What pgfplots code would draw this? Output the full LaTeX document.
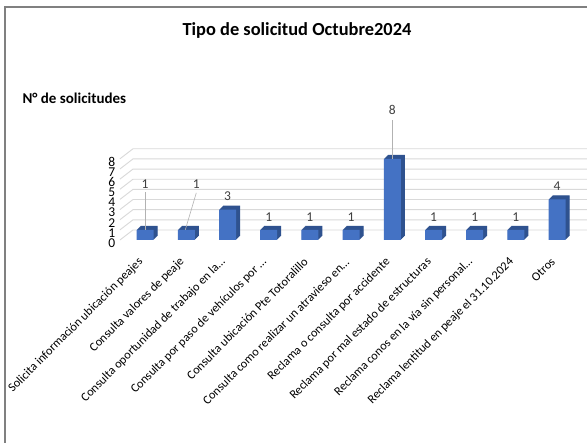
\documentclass[border=0pt]{standalone}
\usepackage{pgfplots}
\pgfplotsset{compat=1.18}
\usepackage{pgfplotstable}
\usepackage{fontspec}
\setmainfont{Carlito}
\definecolor{barfront}{HTML}{4472C4}
\definecolor{barside}{HTML}{2F528F}
\definecolor{gridc}{HTML}{D9D9D9}
\definecolor{txt}{HTML}{404040}
\pgfplotstableread{
x y dx dy
0 1 0 46
1 1 10 46
2 3 0 13
3 1 0 13
4 1 0 13
5 1 0 13
6 8 0 49
7 1 0 13
8 1 0 13
9 1 0 13
10 4 0 13
}\data
\begin{document}
\begin{tikzpicture}
\useasboundingbox (0,0) rectangle (587pt,443pt);
\fill[white] (0,0) rectangle (587pt,443pt);
\draw[gray, line width=1.2pt] (5pt,436pt) rectangle (700pt,-100pt);
\node[font=\bfseries\fontsize{18.4}{20}\selectfont, text=black] at (297pt,412pt) {Tipo de solicitud Octubre2024};
\node[font=\bfseries\fontsize{15}{17}\selectfont, text=black, anchor=west] at (19pt,345pt) {N° de solicitudes};
\begin{axis}[
  at={(124.5pt,203pt)}, anchor=south west,
  scale only axis, width=453.2pt, height=81.2pt,
  xmin=-0.5, xmax=10.5, ymin=0, ymax=8,
  clip=false,
  /pgf/number format/assume math mode=true,
  axis line style={draw=none},
  major tick length=0pt,
  ytick={0,1,2,3,4,5,6,7,8},
  yticklabel style={font=\fontsize{13.5}{13.5}\selectfont, text=black, xshift=-8pt, yshift=-3pt, inner sep=1pt},
  xtick={0,1,2,3,4,5,6,7,8,9,10},
  xticklabels={{Solicita información ubicación peajes}, {Consulta valores de peaje}, {Consulta oportunidad de trabajo en la…}, {Consulta por paso de vehículos por …}, {Consulta ubicación Pte Totoralillo}, {Consulta como realizar un atravieso en…}, {Reclama o consulta por accidente}, {Reclama por mal estado de estructuras}, {Reclama conos en la vía sin personal…}, {Reclama lentitud en peaje el 31.10.2024}, {Otros}},
  xticklabel style={xshift=-4pt, yshift=-20pt, rotate=45, anchor=east, inner sep=0pt, font=\fontsize{12.3}{14}\selectfont, text=black},
  ybar, bar width=17pt,
]
% background grid (back wall and left side wall)
\pgfplotsinvokeforeach{0,1,2,3,4,5,6,7,8}{
  \draw[gridc, line width=0.9pt] (axis cs:-0.61,#1) -- ++(13pt,10pt) -- ([xshift=13pt,yshift=10pt]axis cs:10.8,#1);
}
% depth layers
\pgfplotsinvokeforeach{4,3.5,3,2.5,2,1.5,1,0.5}{
  \addplot[fill=barside, draw=none, xshift=#1pt, yshift=#1pt, forget plot] table[x=x,y=y] {\data};
}
% front faces with value labels
\addplot[fill=barfront, draw=none,
  visualization depends on={\thisrow{dx} \as \dxv},
  visualization depends on={\thisrow{dy} \as \dyv},
  nodes near coords,
  every node near coord/.append style={anchor=center, xshift=\dxv pt, yshift=\dyv pt, font=\fontsize{13.5}{13.5}\selectfont, text=txt}
] table[x=x,y=y] {\data};
% leader lines
\draw[gray!60, line width=0.6pt] (axis cs:0,1) -- ([yshift=38pt]axis cs:0,1);
\draw[gray!60, line width=0.6pt] ([xshift=-1pt]axis cs:1,1) -- ([xshift=10pt,yshift=37pt]axis cs:1,1);
\draw[gray!60, line width=0.6pt] (axis cs:6,8) -- ([yshift=39pt]axis cs:6,8);
\end{axis}
\end{tikzpicture}
\end{document}
